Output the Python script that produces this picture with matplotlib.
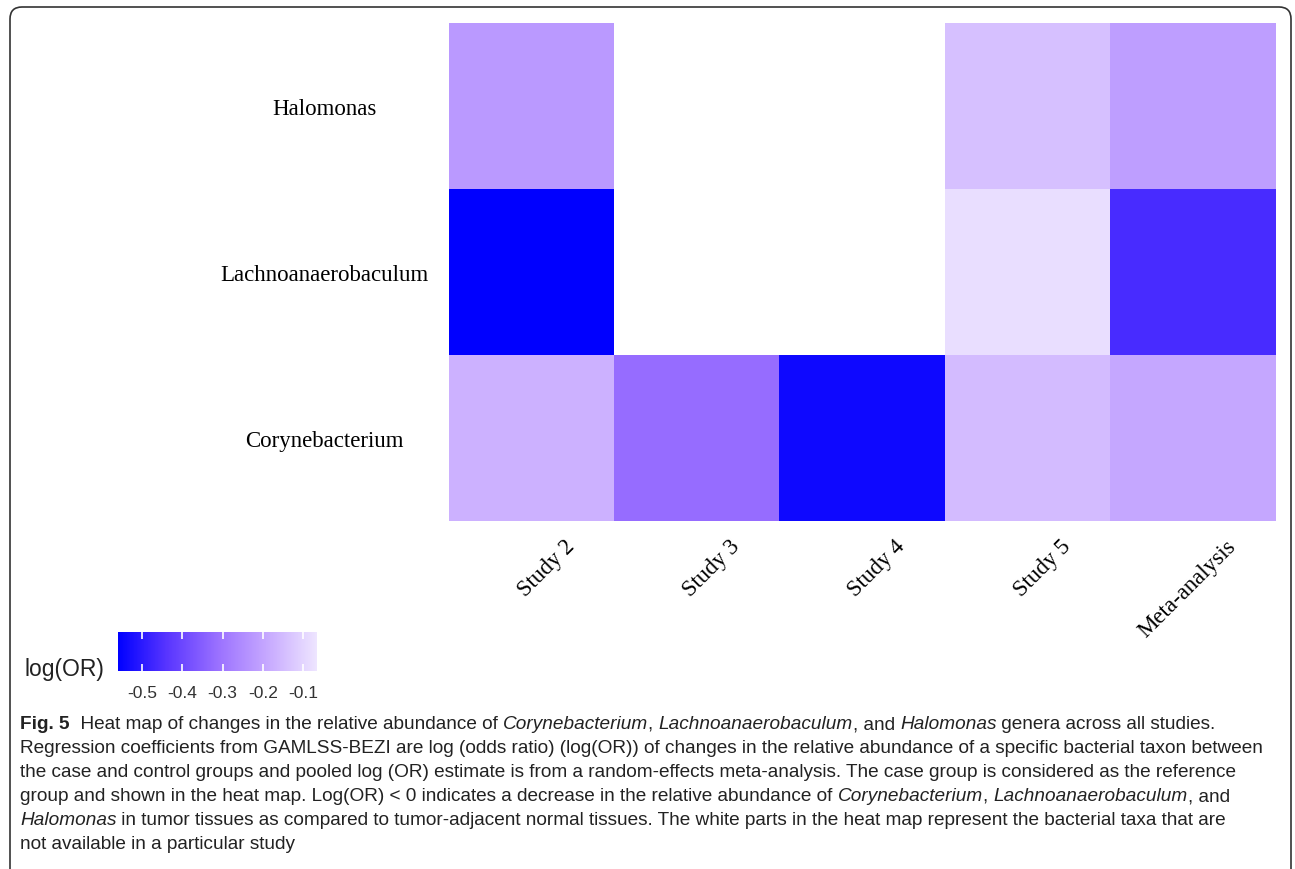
import numpy as np
import matplotlib.pyplot as plt
from matplotlib.colors import LinearSegmentedColormap
from matplotlib.patches import FancyBboxPatch
from matplotlib.transforms import IdentityTransform, ScaledTranslation

plt.rcParams["axes.unicode_minus"] = False

# data
studies = ["Study 2", "Study 3", "Study 4", "Study 5", "Meta-analysis"]
taxa = ["Halomonas", "Lachnoanaerobaculum", "Corynebacterium"]  # top to bottom
halomonas = [-0.22, np.nan, np.nan, -0.14, -0.21]
lachno = [-0.56, np.nan, np.nan, -0.08, -0.46]
coryne = [-0.17, -0.32, -0.54, -0.15, -0.19]
cbar_ticks = [-0.5, -0.4, -0.3, -0.2, -0.1]
vmin, vmax = -0.56, -0.065

W, H = 1295, 870
fig = plt.figure(figsize=(W / 100, H / 100), dpi=100)

cmap = LinearSegmentedColormap.from_list(
    "bl", ["#0000FF", "#5A36FF", "#9A70FF", "#C6A8FF", "#EEE5FF"])
cmap.set_bad("white")

# heat map
ax = fig.add_axes([449 / W, 1 - 522 / H, 827 / W, 498 / H])
vals = np.ma.masked_invalid(np.array([halomonas, lachno, coryne]))
im = ax.imshow(vals, cmap=cmap, vmin=vmin, vmax=vmax, aspect="auto",
               interpolation="nearest")
for s in ax.spines.values():
    s.set_visible(False)
ax.set_xticks(range(len(studies)))
ax.set_yticks(range(len(taxa)))
ax.set_yticklabels(taxa, fontfamily="Liberation Serif", fontsize=16.5,
                   ha="center", color="black")
ax.tick_params(axis="y", length=0, pad=90)
ax.set_xticklabels(studies, fontfamily="Liberation Serif", fontsize=16.5,
                   rotation=45, ha="right", rotation_mode="anchor", color="black")
ax.tick_params(axis="x", length=0, pad=10)
for lab in ax.get_xticklabels():
    lab.set_transform(lab.get_transform() + ScaledTranslation(0.32, 0, fig.dpi_scale_trans))

# colorbar
cax = fig.add_axes([118 / W, 1 - 672 / H, 199 / W, 39 / H])
cb = fig.colorbar(im, cax=cax, orientation="horizontal", ticks=cbar_ticks)
cb.outline.set_visible(False)
cax.xaxis.set_ticks_position("both")
cax.tick_params(axis="x", direction="in", length=5, width=1.2, color="white",
                top=True, bottom=True, labeltop=False, labelbottom=True,
                labelsize=12.5, labelcolor="#333333", pad=10)
for lab in cax.get_xticklabels():
    lab.set_fontfamily("Liberation Sans")
fig.text(25 / W, 1 - 670 / H, "log(OR)", fontfamily="Liberation Sans",
         fontsize=16.5, va="center", ha="left", color="#222222")

# frame
frame = FancyBboxPatch((10, -40), 1281, 870 - 8 + 40,
                       boxstyle="round,pad=0,rounding_size=12",
                       transform=IdentityTransform(), fill=False,
                       edgecolor="#333333", lw=1.2)
fig.patches.append(frame)

# caption
fig.canvas.draw()
renderer = fig.canvas.get_renderer()
cap_font = "Liberation Sans"
cap_size = 13.65


def seg_width(txt, style, weight):
    t1 = fig.text(0, 0, "x" + txt + "x", fontfamily=cap_font, fontsize=cap_size,
                  style=style, weight=weight)
    t2 = fig.text(0, 0, "xx", fontfamily=cap_font, fontsize=cap_size,
                  style=style, weight=weight)
    w = t1.get_window_extent(renderer).width - t2.get_window_extent(renderer).width
    t1.remove()
    t2.remove()
    return w


def draw_line(segs, x0, y):
    x = x0
    for txt, style, weight in segs:
        fig.text(x, H - y, txt, fontfamily=cap_font, fontsize=cap_size,
                 style=style, weight=weight, va="center", ha="left",
                 color="#222222", transform=IdentityTransform())
        x += seg_width(txt, style, weight)


N, I, B = "normal", "italic", "bold"
lines = [
    [("Fig. 5", N, B), ("  Heat map of changes in the relative abundance of ", N, N),
     ("Corynebacterium", I, N), (", ", N, N), ("Lachnoanaerobaculum", I, N),
     (", and ", N, N), ("Halomonas", I, N), (" genera across all studies.", N, N)],
    [("Regression coefficients from GAMLSS-BEZI are log (odds ratio) (log(OR)) of changes "
      "in the relative abundance of a specific bacterial taxon between", N, N)],
    [("the case and control groups and pooled log (OR) estimate is from a random-effects "
      "meta-analysis. The case group is considered as the reference", N, N)],
    [("group and shown in the heat map. Log(OR) < 0 indicates a decrease in the relative "
      "abundance of ", N, N), ("Corynebacterium", I, N), (", ", N, N),
     ("Lachnoanaerobaculum", I, N), (", and", N, N)],
    [("Halomonas", I, N), (" in tumor tissues as compared to tumor-adjacent normal tissues. "
      "The white parts in the heat map represent the bacterial taxa that are", N, N)],
    [("not available in a particular study", N, N)],
]
for i, segs in enumerate(lines):
    draw_line(segs, 20, 725 + 24 * i)

fig.savefig("out.png", dpi=100)
